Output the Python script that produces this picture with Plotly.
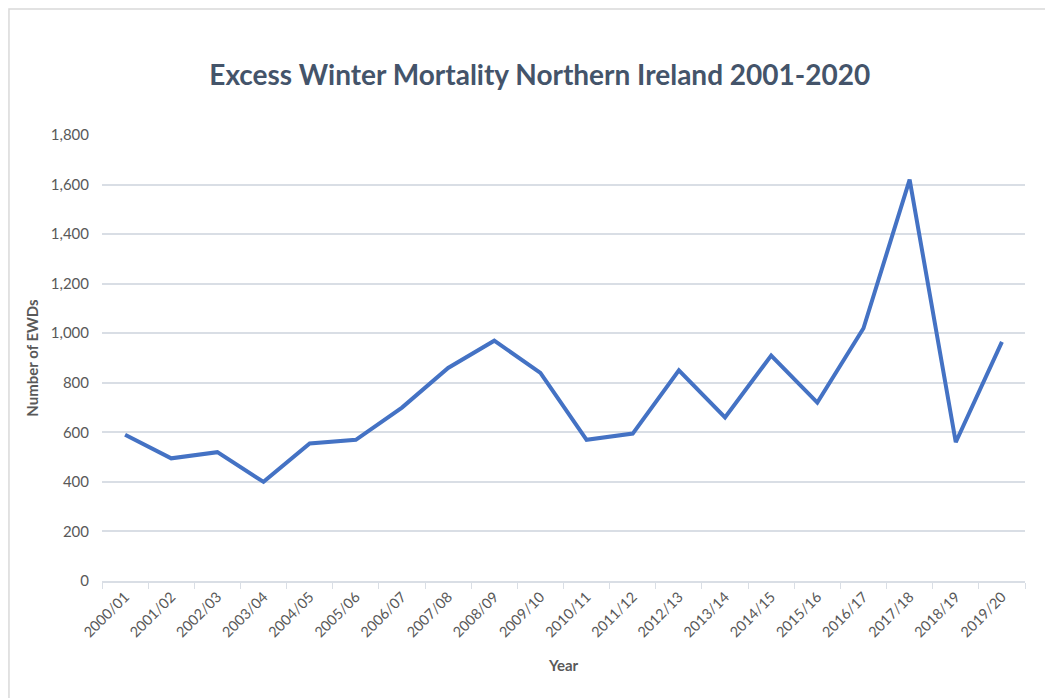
import plotly.graph_objects as go

# winter periods and excess winter deaths
years = ['2000/01', '2001/02', '2002/03', '2003/04', '2004/05', '2005/06', '2006/07',
         '2007/08', '2008/09', '2009/10', '2010/11', '2011/12', '2012/13', '2013/14',
         '2014/15', '2015/16', '2016/17', '2017/18', '2018/19', '2019/20']
ewds = [590, 495, 520, 400, 555, 570, 700, 860, 970, 840,
        570, 595, 850, 660, 910, 720, 1020, 1620, 560, 965]
ytick_vals = [0, 200, 400, 600, 800, 1000, 1200, 1400, 1600, 1800]

font_family = 'Lato, Open Sans, sans-serif'
text_col = '#595959'
grid_col = '#D9DEE5'

line = go.Scatter(x=years,
                  y=ewds,
                  mode='lines',
                  line={'color': '#4472C4', 'width': 4},
                  showlegend=False)

layout = go.Layout(width=1053,
                   height=698,
                   margin={'l': 94, 'r': 36, 't': 127, 'b': 125},
                   paper_bgcolor='white',
                   plot_bgcolor='white',
                   font={'family': font_family, 'color': text_col, 'size': 15},
                   title={'text': '<b>Excess Winter Mortality Northern Ireland 2001-2020</b>',
                          'x': 0.505, 'xref': 'container', 'xanchor': 'center',
                          'y': 0.904, 'yref': 'container', 'yanchor': 'middle',
                          'font': {'size': 28, 'color': '#44546A', 'family': font_family}},
                   xaxis={'type': 'category',
                          'range': [-0.5, len(years) - 0.5],
                          'tickangle': -45,
                          'tickson': 'boundaries',
                          'ticks': 'outside',
                          'ticklen': 6,
                          'tickcolor': grid_col,
                          'showline': True,
                          'linecolor': grid_col,
                          'linewidth': 1.5,
                          'showgrid': False,
                          'tickfont': {'size': 14.5, 'color': text_col},
                          'title': {'text': '<b>Year</b>', 'standoff': 21,
                                    'font': {'size': 15, 'color': text_col}},
                          'fixedrange': True},
                   yaxis={'range': [0, 1800],
                          'tickvals': ytick_vals,
                          'tickformat': ',',
                          'showgrid': True,
                          'gridcolor': grid_col,
                          'gridwidth': 1.5,
                          'zeroline': False,
                          'ticks': '',
                          'ticklabelstandoff': 12,
                          'tickfont': {'size': 15, 'color': text_col},
                          'title': {'text': '<b>Number of EWDs</b>', 'standoff': 8,
                                    'font': {'size': 15, 'color': text_col}},
                          'fixedrange': True},
                   shapes=[{'type': 'rect',
                            'xref': 'paper', 'yref': 'paper',
                            'x0': -0.1008, 'x1': 1.2,
                            'y0': -0.5, 'y1': 1.2825,
                            'line': {'color': '#D9D9D9', 'width': 1.5},
                            'layer': 'below'}])

fig = go.Figure([line], layout)
fig.write_html("out.html")
